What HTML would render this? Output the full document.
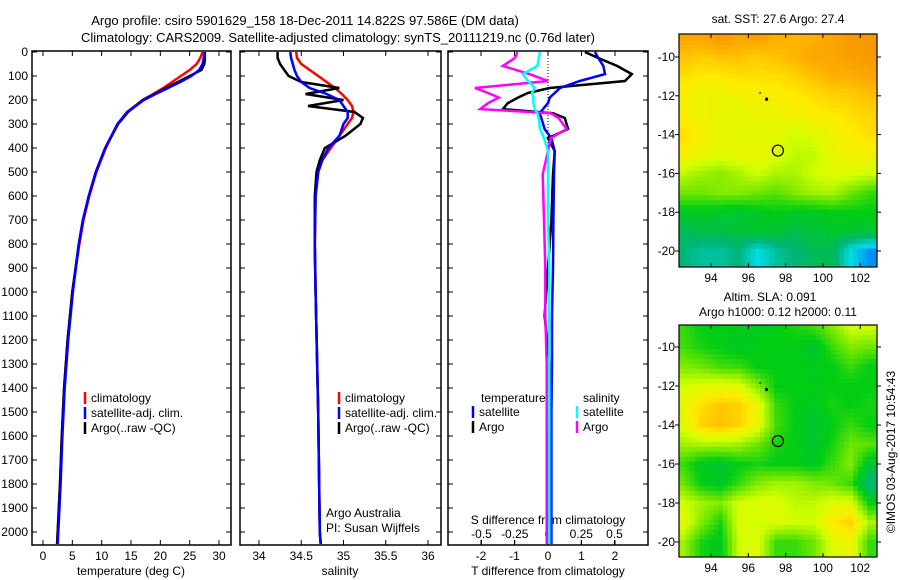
<!DOCTYPE html>
<html><head><meta charset="utf-8"><style>
body{margin:0;background:#fff;}
svg{display:block;font-family:"Liberation Sans",sans-serif;font-size:12px;}
</style></head><body>
<svg id="c" width="900" height="580" viewBox="0 0 900 580"></svg>
<script>
const tDepth=[0,25,50,75,100,125,150,175,200,250,300,400,500,600,700,800,1000,1200,1400,1600,1800,2000,2050];
const tArgo=[27.6,27.6,27.5,27,25,23,21,19,17,14.5,12.8,10.6,9.0,7.8,6.8,6.1,5.0,4.2,3.6,3.2,2.9,2.5,2.4];
const tClim=[27.2,26.8,26.2,25,23.5,22,20.5,18.8,17,14.3,12.7,10.7,9.1,7.9,6.9,6.2,5.0,4.2,3.6,3.2,2.9,2.5,2.4];
const tSat=[27.5,27.4,27.2,26.6,25.3,23.4,21.3,19.2,17.2,14.4,12.7,10.6,9.0,7.8,6.8,6.1,5.1,4.3,3.7,3.3,3.0,2.6,2.5];
const sDepth=[0,25,50,75,100,125,150,175,200,225,250,275,300,350,400,450,500,600,800,1000,1500,2000,2050];
const sArgo=[34.22,34.22,34.25,34.3,34.35,34.5,34.95,34.55,35.0,34.58,35.13,35.23,35.2,35.02,34.78,34.72,34.68,34.66,34.66,34.67,34.7,34.72,34.73];
const sClim=[34.44,34.45,34.5,34.6,34.7,34.8,34.9,34.98,35.05,35.1,35.12,35.1,35.05,34.95,34.85,34.75,34.7,34.67,34.66,34.67,34.7,34.72,34.73];
const sSat=[34.37,34.38,34.4,34.42,34.45,34.5,34.6,34.8,34.95,35.0,35.05,35.05,35.0,34.95,34.82,34.75,34.7,34.67,34.66,34.67,34.7,34.72,34.73];
const dDepth=[0,25,58,92,121,150,171,190,213,238,255,275,321,359,413,510,700,900,1100,1300,1500,1700,1900,2050];
const dTArgo=[1.1,1.5,2.06,2.5,2.3,0.05,-0.6,-0.9,-1.2,-1.35,0.15,0.5,0.6,0,0.2,0.15,0.1,0.0,-0.1,0.05,0.05,0,0,0];
const dTSat=[1.4,1.5,1.65,1.7,0.95,0.36,0.2,0.05,0,-0.15,-0.25,-0.2,-0.1,0.1,0.2,0.18,0.16,0.15,0.12,0.12,0.1,0.1,0.1,0.1];
const dSArgo=[-0.23,-0.25,-0.34,-0.14,0,-0.55,-0.45,-0.37,-0.45,-0.51,0.02,0.08,0.14,0.02,0,-0.04,-0.03,-0.02,-0.02,-0.01,-0.01,-0.01,-0.01,-0.01];
const dSSat=[-0.06,-0.07,-0.08,-0.19,-0.15,-0.1,-0.12,-0.11,-0.11,-0.1,-0.08,-0.07,-0.06,-0.03,0,0,0,0.01,0.01,0.01,0.01,0.01,0.01,0.01];
const depthTicks=[0,100,200,300,400,500,600,700,800,900,1000,1100,1200,1300,1400,1500,1600,1700,1800,1900,2000];
const tTicks=[0,5,10,15,20,25,30];
const sTicks=[34,34.5,35,35.5,36];
const dTTicks=[-2,-1,0,1,2];
const dSTicks=[-0.5,-0.25,0,0.25,0.5];
const lonTicks=[94,96,98,100,102];
const latTicks=[-10,-12,-14,-16,-18,-20];
const sstGrid=[
[0.9,0.9,0.93,0.9,0.92,0.88,0.87,0.88,0.9,0.93,0.93],
[0.85,0.83,0.85,0.85,0.83,0.85,0.87,0.9,0.9,0.92,0.93],
[0.8,0.78,0.78,0.8,0.8,0.8,0.82,0.85,0.88,0.88,0.9],
[0.76,0.75,0.74,0.75,0.76,0.77,0.78,0.8,0.82,0.83,0.85],
[0.77,0.75,0.74,0.73,0.74,0.75,0.76,0.77,0.78,0.8,0.82],
[0.8,0.76,0.74,0.73,0.72,0.73,0.7,0.72,0.75,0.77,0.8],
[0.77,0.74,0.73,0.74,0.74,0.72,0.68,0.68,0.74,0.76,0.76],
[0.68,0.65,0.63,0.66,0.7,0.66,0.66,0.7,0.72,0.72,0.7],
[0.6,0.6,0.62,0.62,0.6,0.58,0.62,0.65,0.66,0.6,0.55],
[0.48,0.48,0.47,0.46,0.48,0.5,0.48,0.48,0.5,0.5,0.5],
[0.4,0.42,0.42,0.44,0.46,0.45,0.42,0.44,0.46,0.46,0.45],
[0.35,0.3,0.3,0.35,0.2,0.3,0.35,0.4,0.4,0.2,0.1]];
const slaGrid=[
[0.55,0.5,0.5,0.5,0.48,0.5,0.52,0.55,0.62,0.7,0.7],
[0.56,0.52,0.5,0.47,0.5,0.5,0.5,0.46,0.55,0.62,0.6],
[0.62,0.6,0.56,0.55,0.5,0.5,0.5,0.48,0.5,0.55,0.5],
[0.7,0.72,0.73,0.72,0.62,0.5,0.5,0.5,0.5,0.5,0.5],
[0.74,0.8,0.84,0.82,0.75,0.55,0.5,0.48,0.52,0.5,0.52],
[0.72,0.82,0.85,0.82,0.74,0.56,0.5,0.46,0.5,0.55,0.5],
[0.65,0.66,0.66,0.65,0.6,0.52,0.5,0.46,0.52,0.6,0.58],
[0.55,0.48,0.46,0.5,0.52,0.5,0.5,0.48,0.55,0.62,0.45],
[0.6,0.5,0.47,0.55,0.62,0.65,0.65,0.62,0.6,0.55,0.35],
[0.7,0.65,0.62,0.7,0.72,0.72,0.68,0.68,0.72,0.72,0.5],
[0.74,0.62,0.52,0.72,0.7,0.72,0.7,0.7,0.78,0.82,0.66],
[0.65,0.52,0.48,0.7,0.72,0.55,0.55,0.6,0.72,0.75,0.55]];

const NS="http://www.w3.org/2000/svg";
const svg=document.getElementById('c');
function mk(tag,attrs,parent){const e=document.createElementNS(NS,tag);for(const k in attrs)e.setAttribute(k,attrs[k]);(parent||svg).appendChild(e);return e;}
function txt(x,y,s,anchor,name,extra){const e=mk('text',Object.assign({x:x,y:y,'text-anchor':anchor||'middle',fill:'#000'},extra||{}));e.textContent=s;


return e;}

const TOP=52,BOT=545,PXM=0.24;
const yD=d=>TOP+d*PXM;
const panels=[{l:32,r:231},{l:240,r:441},{l:448,r:648}];
const xT=v=>43+v*(219-43)/30;
const xS=v=>259+(v-34)*(428-259)/2;
const xDT=v=>548+v*33.5;
const xDS=v=>548+v*133;

function frame(p,name){const r=mk('rect',{x:p.l,y:TOP-1,width:p.r-p.l,height:BOT-TOP+1,fill:'none',stroke:'#000','stroke-width':1.5});


depthTicks.forEach(d=>{mk('line',{x1:p.l,x2:p.l+5,y1:yD(d),y2:yD(d),stroke:'#000'});mk('line',{x1:p.r,x2:p.r-5,y1:yD(d),y2:yD(d),stroke:'#000'});});}
function line(xs,ds,fx,color,name,w){const pts=xs.map((v,i)=>fx(v).toFixed(1)+','+yD(ds[i]).toFixed(1)).join(' ');
const e=mk('polyline',{points:pts,fill:'none',stroke:color,'stroke-width':w||2.5,'stroke-linejoin':'miter'});

}
function xticks(p,ticks,fx,fmt,ylab,name){ticks.forEach(t=>{const x=fx(t);mk('line',{x1:x,x2:x,y1:BOT,y2:BOT-5,stroke:'#000'});mk('line',{x1:x,x2:x,y1:TOP-1,y2:TOP+4,stroke:'#000'});txt(x,ylab,fmt(t),'middle',name);});}

// titles
txt(305,25,'Argo profile: csiro 5901629_158 18-Dec-2011 14.822S 97.586E (DM data)','middle','title-line-1',{'font-size':'13'});
txt(338,42,'Climatology: CARS2009. Satellite-adjusted climatology: synTS_20111219.nc (0.76d later)','middle','title-line-2',{'font-size':'13'});

// panel 1
frame(panels[0],'temperature-panel');
depthTicks.forEach(d=>txt(28,yD(d)+4,String(d),'end','depth-tick-label'));
xticks(panels[0],tTicks,xT,String,560,'temperature-tick-label');
txt(131,575,'temperature (deg C)','middle','temperature-axis-title');
line(tClim,tDepth,xT,'#f00','temperature-climatology-line');
line(tArgo,tDepth,xT,'#000','temperature-argo-line');
line(tSat,tDepth,xT,'#00f','temperature-satellite-line');
function legend(x,y,color,label,name){mk('line',{x1:x,x2:x,y1:y-10,y2:y+2,stroke:color,'stroke-width':2.5});txt(x+6,y,label,'start',name);}
legend(85,402,'#f00','climatology','legend-climatology');
legend(85,417,'#00f','satellite-adj. clim.','legend-satellite');
legend(85,432,'#000','Argo(..raw -QC)','legend-argo');

// panel 2
frame(panels[1],'salinity-panel');
xticks(panels[1],sTicks,xS,String,560,'salinity-tick-label');
txt(340,575,'salinity','middle','salinity-axis-title');
line(sClim,sDepth,xS,'#f00','salinity-climatology-line');
line(sArgo,sDepth,xS,'#000','salinity-argo-line');
line(sSat,sDepth,xS,'#00f','salinity-satellite-line');
legend(339,402,'#f00','climatology','legend-climatology-2');
legend(339,417,'#00f','satellite-adj. clim.','legend-satellite-2');
legend(339,432,'#000','Argo(..raw -QC)','legend-argo-2');
txt(326,517,'Argo Australia','start','argo-australia-label');
txt(326,532,'PI: Susan Wijffels','start','pi-label');

// panel 3
frame(panels[2],'difference-panel');
xticks(panels[2],dTTicks,xDT,String,560,'t-diff-tick-label');
dSTicks.forEach(t=>{const x=xDS(t);mk('line',{x1:x,x2:x,y1:BOT,y2:BOT-5,stroke:'#000'});txt(x,538,String(t),'middle','s-diff-tick-label');});
txt(548,575,'T difference from climatology','middle','t-diff-axis-title');
txt(548,524,'S difference from climatology','middle','s-diff-axis-title');
mk('line',{x1:548,x2:548,y1:TOP,y2:190,stroke:'#000','stroke-dasharray':'1,2'});
line(dTArgo,dDepth,xDT,'#000','t-diff-argo-line');
line(dTSat,dDepth,xDT,'#00f','t-diff-satellite-line');
line(dSArgo,dDepth,xDS,'#f0f','s-diff-argo-line');
line(dSSat,dDepth,xDS,'#0ff','s-diff-satellite-line');
txt(481,402,'temperature','start','legend-temperature-header');
txt(583,402,'salinity','start','legend-salinity-header');
legend(473,416,'#00f','satellite','legend-t-satellite');
legend(473,431,'#000','Argo','legend-t-argo');
legend(577,416,'#0ff','satellite','legend-s-satellite');
legend(577,431,'#f0f','Argo','legend-s-argo');

// colormap
const stops=[[0,[0,70,255]],[0.2,[0,220,230]],[0.35,[0,180,120]],[0.5,[0,205,20]],[0.6,[110,230,0]],[0.7,[210,255,0]],[0.78,[255,235,0]],[0.88,[255,175,0]],[1,[235,125,0]]];
function cmap(v){v=Math.max(0,Math.min(1,v));for(let i=1;i<stops.length;i++){if(v<=stops[i][0]){const a=stops[i-1],b=stops[i],f=(v-a[0])/(b[0]-a[0]);return 'rgb('+a[1].map((c,k)=>Math.round(c+(b[1][k]-c)*f)).join(',')+')';}}return 'rgb(235,125,0)';}

function map(grid,box,name,clipId){
  const lonL=92.28,lonR=102.9;
  const xL=lo=>box.x0+(lo-lonL)/(lonR-lonL)*(box.x1-box.x0);
  const yL=la=>box.y10+(-10-la)*(box.y20-box.y10)/10;
  const cp=mk('clipPath',{id:clipId});mk('rect',{x:box.x0,y:box.top,width:box.x1-box.x0,height:box.bot-box.top},cp);
  const g=mk('g',{'clip-path':'url(#'+clipId+')'});
  
  
  const R=grid.length,C=grid[0].length,sub=4;
  function val(r,c){r=Math.max(0,Math.min(R-1,r));c=Math.max(0,Math.min(C-1,c));const r0=Math.floor(r),c0=Math.floor(c),r1=Math.min(R-1,r0+1),c1=Math.min(C-1,c0+1),fr=r-r0,fc=c-c0;
    return grid[r0][c0]*(1-fr)*(1-fc)+grid[r0][c1]*(1-fr)*fc+grid[r1][c0]*fr*(1-fc)+grid[r1][c1]*fr*fc;}
  for(let i=-sub;i<(R+1)*sub;i++)for(let j=-sub;j<(C+1)*sub;j++){
    const r=i/sub,c=j/sub;const lo=92.5+c,la=-9-r;
    const x=xL(lo-0.5/sub*0+0),y=yL(la);
    const w=(box.x1-box.x0)/(lonR-lonL)/sub,h=(box.y20-box.y10)/10/sub;
    mk('rect',{x:(x-w/2).toFixed(1),y:(y-h/2).toFixed(1),width:(w+0.6).toFixed(1),height:(h+0.6).toFixed(1),fill:cmap(val(r,c))},g);
  }
  const fr=mk('rect',{x:box.x0,y:box.top,width:box.x1-box.x0,height:box.bot-box.top,fill:'none',stroke:'#000','stroke-width':1.2});
  lonTicks.forEach(lo=>{const x=xL(lo);mk('line',{x1:x,x2:x,y1:box.bot,y2:box.bot-4,stroke:'#000'});mk('line',{x1:x,x2:x,y1:box.top,y2:box.top+4,stroke:'#000'});txt(x,box.bot+15,String(lo),'middle','longitude-tick-label');});
  latTicks.forEach(la=>{const y=yL(la);mk('line',{x1:box.x0,x2:box.x0-4,y1:y,y2:y,stroke:'#000'});mk('line',{x1:box.x1,x2:box.x1+4,y1:y,y2:y,stroke:'#000'});txt(box.x0-4,y+4,String(la),'end','latitude-tick-label');});
  const c=mk('circle',{cx:xL(97.586),cy:yL(-14.822),r:5.5,fill:'none',stroke:'#000','stroke-width':1.2});
  
  
  mk('rect',{x:xL(96.95)-1,y:yL(-12.15)-1,width:3,height:3,fill:'#000'});
  mk('rect',{x:xL(96.6),y:yL(-11.8),width:1,height:2,fill:'#000'});
}
map(sstGrid,{x0:679,x1:877,top:34,bot:267,y10:57,y20:251},'sst-map','clip1');
map(slaGrid,{x0:679,x1:877,top:325,bot:557,y10:347,y20:542},'sla-map','clip2');
txt(778,23,'sat. SST: 27.6 Argo: 27.4','middle','sst-map-title');
txt(770,301,'Altim. SLA: 0.091','middle','sla-map-title');
txt(778,316,'Argo h1000: 0.12 h2000: 0.11','middle','argo-steric-height-label');
txt(0,0,'©IMOS 03-Aug-2017 10:54:43','middle','imos-timestamp',{transform:'translate(895,452) rotate(-90)'});
</script>
</body></html>
